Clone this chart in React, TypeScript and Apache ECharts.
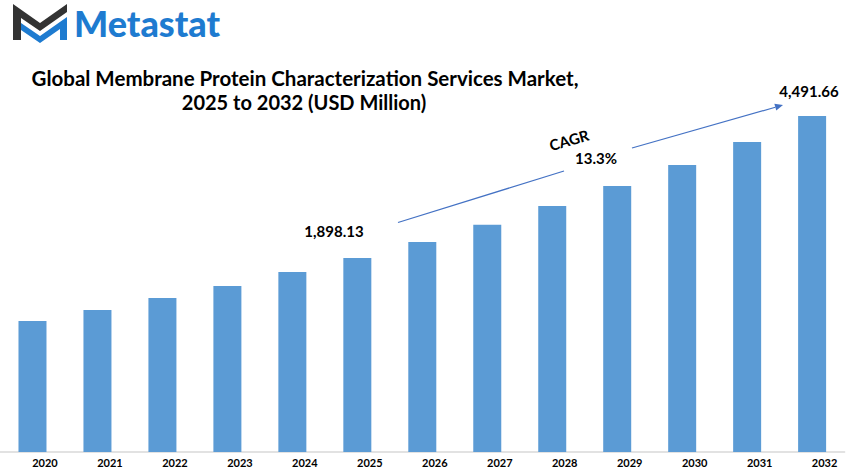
import React, { useEffect, useRef } from "react";
import * as echarts from "echarts";

const years = ["2020", "2021", "2022", "2023", "2024", "2025", "2026", "2027", "2028", "2029", "2030", "2031", "2032"];
const marketSize = [748, 949, 1168, 1387, 1643, 1898.13, 2190, 2506, 2848, 3213, 3597, 4017, 4491.66];
const startLabel = "1,898.13";
const endLabel = "4,491.66";
const cagrText = "CAGR";
const cagrValue = "13.3%";
const titleLines = ["Global Membrane Protein Characterization Services Market,", "2025 to 2032 (USD Million)"];

const BAR = "#5B9BD5";
const ARROW = "#4472C4";
const FONT = "Lato, 'Open Sans', sans-serif";

export default function App() {
  const ref = useRef<HTMLDivElement>(null);

  useEffect(() => {
    if (!ref.current) return;
    const chart = echarts.init(ref.current, null, { renderer: "svg" });

    const tip = [783, 105];
    const dir = [0.961, -0.278];
    const perp = [0.278, 0.961];
    const base = [tip[0] - 8 * dir[0], tip[1] - 8 * dir[1]];

    chart.setOption({
      animation: false,
      backgroundColor: "#ffffff",
      grid: { left: -2.6, right: 10.4, top: 100, bottom: 23, containLabel: false },
      xAxis: {
        type: "category",
        data: years,
        axisLine: { show: true, onZero: false, lineStyle: { color: "#D9D9D9", width: 1.5 } },
        axisTick: { show: false },
        axisLabel: {
          color: "#000",
          fontFamily: FONT,
          fontWeight: "bold",
          fontSize: 11,
          margin: 5,
          padding: [0, 0, 0, 25],
          interval: 0,
        },
      },
      yAxis: {
        type: "value",
        min: -1645,
        max: 4784,
        startValue: -1645,
        show: false,
        splitLine: { show: false },
      },
      series: [
        {
          type: "bar",
          data: marketSize,
          barWidth: 28,
          itemStyle: { color: BAR },
        },
      ],
      graphic: [
        // logo mark
        {
          type: "polygon",
          shape: { points: [[13, 4], [40, 23], [67, 4], [67, 12], [40, 31], [21, 18], [21, 40], [13, 40]] },
          style: { fill: "#333333" },
        },
        {
          type: "polygon",
          shape: { points: [[21, 23], [40, 36], [67, 17], [67, 40], [60, 40], [60, 29], [40, 43], [21, 30]] },
          style: { fill: "#1E7BD0" },
        },
        {
          type: "text",
          x: 74,
          y: 23,
          style: {
            text: "Metastat",
            fill: "#1E7BD0",
            font: `900 36px ${FONT}`,
            textAlign: "left",
            textVerticalAlign: "middle",
          },
        },
        // title
        {
          type: "text",
          x: 305,
          y: 78,
          style: {
            text: titleLines[0],
            fill: "#000",
            font: `bold 20.5px ${FONT}`,
            textAlign: "center",
            textVerticalAlign: "middle",
          },
        },
        {
          type: "text",
          x: 304,
          y: 102,
          style: {
            text: titleLines[1],
            fill: "#000",
            font: `bold 20px ${FONT}`,
            textAlign: "center",
            textVerticalAlign: "middle",
          },
        },
        // value callouts
        {
          type: "text",
          x: 334,
          y: 231,
          style: { text: startLabel, fill: "#000", font: `bold 15px ${FONT}`, textAlign: "center", textVerticalAlign: "middle" },
        },
        {
          type: "text",
          x: 809,
          y: 91,
          style: { text: endLabel, fill: "#000", font: `bold 15px ${FONT}`, textAlign: "center", textVerticalAlign: "middle" },
        },
        // CAGR arrow
        {
          type: "line",
          shape: { x1: 398, y1: 222.5, x2: 564, y2: 171 },
          style: { stroke: ARROW, lineWidth: 1.2 },
        },
        {
          type: "line",
          shape: { x1: 632, y1: 148, x2: base[0], y2: base[1] },
          style: { stroke: ARROW, lineWidth: 1.2 },
        },
        {
          type: "polygon",
          shape: {
            points: [
              tip,
              [base[0] + 3.5 * perp[0], base[1] + 3.5 * perp[1]],
              [base[0] - 3.5 * perp[0], base[1] - 3.5 * perp[1]],
            ],
          },
          style: { fill: ARROW },
        },
        {
          type: "text",
          x: 569,
          y: 140,
          rotation: (16 * Math.PI) / 180,
          style: { text: cagrText, fill: "#000", font: `bold 15px ${FONT}`, textAlign: "center", textVerticalAlign: "middle" },
        },
        {
          type: "text",
          x: 596,
          y: 158,
          style: { text: cagrValue, fill: "#000", font: `bold 15px ${FONT}`, textAlign: "center", textVerticalAlign: "middle" },
        },
      ],
    });

    return () => chart.dispose();
  }, []);

  return <div ref={ref} style={{ width: 855, height: 475, position: "absolute", left: 0, top: 0 }} />;
}
